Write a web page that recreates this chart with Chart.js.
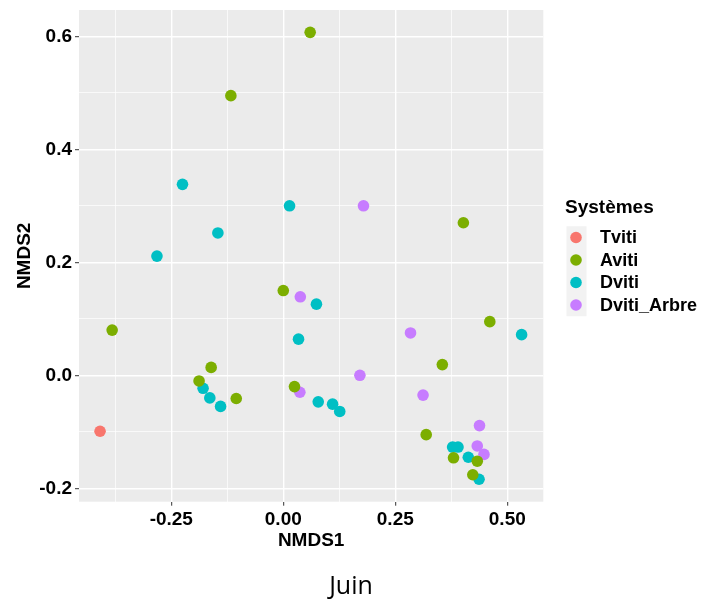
<!DOCTYPE html>
<html>
<head>
<meta charset="utf-8">
<script src="https://cdn.jsdelivr.net/npm/chart.js@4"></script>
<style>
  body { margin: 0; background: #fff; }
  #wrap { position: relative; width: 719px; height: 603px; }
  #caption { position: absolute; left: 301px; width: 100px; top: 567px; text-align: center;
             font-family: "Open Sans", sans-serif; font-size: 25px; color: #000; }
</style>
</head>
<body>
<div id="wrap">
  <canvas id="nmdsChart" width="719" height="603"></canvas>
  <div id="caption">Juin</div>
</div>
<script>
// groupes (Systèmes)
const groups = ['Tviti', 'Aviti', 'Dviti', 'Dviti_Arbre'];
const groupColors = ['#F8766D', '#7CAE00', '#00BFC4', '#C77CFF'];

// coordonnées NMDS
const tvitiX = [-0.409];
const tvitiY = [-0.099];

const avitiX = [0.060, -0.117, 0.402, 0.000, -0.382, 0.461, 0.355, -0.161, -0.188, 0.025, -0.105, 0.319, 0.380, 0.433, 0.423];
const avitiY = [0.607, 0.495, 0.270, 0.150, 0.080, 0.095, 0.019, 0.014, -0.010, -0.020, -0.041, -0.105, -0.146, -0.152, -0.176];

const dvitiX = [-0.225, 0.014, -0.146, -0.282, 0.074, 0.034, 0.532, -0.179, -0.164, -0.140, 0.078, 0.110, 0.126, 0.378, 0.390, 0.413, 0.437];
const dvitiY = [0.338, 0.300, 0.252, 0.211, 0.126, 0.064, 0.072, -0.023, -0.040, -0.055, -0.047, -0.051, -0.064, -0.127, -0.127, -0.145, -0.184];

const arbreX = [0.179, 0.038, 0.284, 0.171, 0.037, 0.312, 0.438, 0.433, 0.448];
const arbreY = [0.300, 0.139, 0.075, 0.000, -0.030, -0.035, -0.089, -0.125, -0.140];

// graduations
const xMajorTicks = [-0.25, 0, 0.25, 0.5];
const xMinorTicks = [-0.375, -0.125, 0.125, 0.375];
const yMajorTicks = [-0.2, 0, 0.2, 0.4, 0.6];
const yMinorTicks = [-0.1, 0.1, 0.3, 0.5];

const xs = [tvitiX, avitiX, dvitiX, arbreX];
const ys = [tvitiY, avitiY, dvitiY, arbreY];

function toPoints(x, y) {
  return x.map((v, i) => ({ x: v, y: y[i] }));
}

function isIn(list, v) {
  return list.some(t => Math.abs(t - v) < 1e-9);
}

const datasets = groups.map((g, i) => ({
  label: g,
  data: toPoints(xs[i], ys[i]),
  backgroundColor: groupColors[i],
  borderWidth: 0,
  pointRadius: 5.8,
  pointHoverRadius: 5.8
}));

const font = { family: '"Liberation Sans", Arial, sans-serif', size: 19, weight: 'bold' };

// fond gris du panneau
const panelBg = {
  id: 'panelBg',
  beforeDraw(chart) {
    const a = chart.chartArea;
    const ctx = chart.ctx;
    ctx.save();
    ctx.fillStyle = '#EBEBEB';
    ctx.fillRect(a.left, a.top, a.right - a.left, a.bottom - a.top);
    ctx.restore();
  }
};

// légende façon ggplot
const ggLegend = {
  id: 'ggLegend',
  afterDraw(chart) {
    const ctx = chart.ctx;
    ctx.save();
    ctx.fillStyle = '#000';
    ctx.textBaseline = 'middle';
    ctx.textAlign = 'left';
    ctx.font = 'bold 19px "Liberation Sans", Arial, sans-serif';
    ctx.fillText('Systèmes', 565, 208);
    const y0 = 237.5, step = 22.5;
    ctx.fillStyle = '#F2F2F2';
    ctx.fillRect(566.5, y0 - step / 2, 20, step * chart.data.datasets.length);
    ctx.font = 'bold 18px "Liberation Sans", Arial, sans-serif';
    chart.data.datasets.forEach((ds, i) => {
      const y = y0 + i * step;
      ctx.fillStyle = ds.backgroundColor;
      ctx.beginPath();
      ctx.arc(576, y, 5.8, 0, Math.PI * 2);
      ctx.fill();
      ctx.fillStyle = '#000';
      ctx.fillText(ds.label, 600, y + 1);
    });
    ctx.restore();
  }
};

const canvas = document.getElementById('nmdsChart');
const nmdsChart = new Chart(canvas, {
  type: 'scatter',
  data: { datasets: datasets },
  options: {
    responsive: false,
    animation: false,
    layout: { padding: { left: 0, top: 10, right: 175.7, bottom: 50.6 } },
    plugins: { legend: { display: false }, tooltip: { enabled: false } },
    scales: {
      x: {
        type: 'linear',
        min: -0.456,
        max: 0.5804,
        afterFit: s => { s.height = 50.7; s.paddingLeft = 0; s.paddingRight = 0; },
        afterBuildTicks: s => {
          s.ticks = xMajorTicks.concat(xMinorTicks).sort((a, b) => a - b).map(v => ({ value: v }));
        },
        border: { display: false },
        grid: {
          color: '#FFFFFF',
          lineWidth: c => isIn(xMajorTicks, c.tick.value) ? 1.4 : 0.7,
          tickLength: 4,
          tickWidth: 1,
          tickColor: c => isIn(xMajorTicks, c.tick.value) ? '#333333' : 'rgba(0,0,0,0)'
        },
        ticks: {
          autoSkip: false,
          maxRotation: 0,
          padding: 3,
          color: '#000',
          font: font,
          callback: v => isIn(xMajorTicks, v) ? v.toFixed(2) : ''
        },
        title: { display: true, text: 'NMDS1', color: '#000', font: font, padding: { top: 0, bottom: 0 } }
      },
      y: {
        type: 'linear',
        min: -0.2237,
        max: 0.6466,
        afterFit: s => { s.width = 79; s.paddingTop = 0; s.paddingBottom = 0; },
        afterBuildTicks: s => {
          s.ticks = yMajorTicks.concat(yMinorTicks).sort((a, b) => a - b).map(v => ({ value: v }));
        },
        border: { display: false },
        grid: {
          color: '#FFFFFF',
          lineWidth: c => isIn(yMajorTicks, c.tick.value) ? 1.4 : 0.7,
          tickLength: 4,
          tickWidth: 1,
          tickColor: c => isIn(yMajorTicks, c.tick.value) ? '#333333' : 'rgba(0,0,0,0)'
        },
        ticks: {
          autoSkip: false,
          padding: 3,
          color: '#000',
          font: font,
          callback: v => isIn(yMajorTicks, v) ? v.toFixed(1) : ''
        },
        title: { display: true, text: 'NMDS2', color: '#000', font: font, padding: { top: 13.6, bottom: 0 } }
      }
    }
  },
  plugins: [panelBg, ggLegend]
});
</script>
</body>
</html>
